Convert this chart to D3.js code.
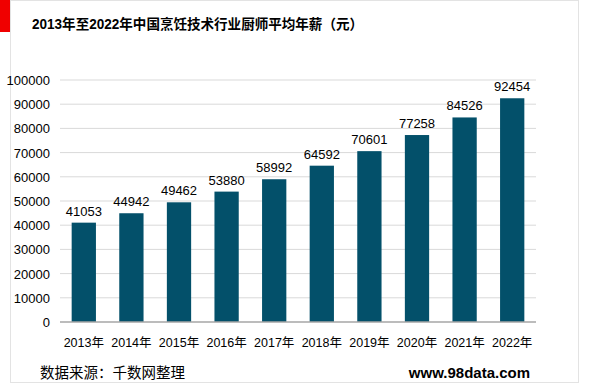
<!DOCTYPE html>
<html lang="zh">
<head>
<meta charset="UTF-8">
<script src="https://cdn.jsdelivr.net/npm/d3@7"></script>
<style>
  body { margin: 0; background: #fff; }
  text { font-family: "Liberation Sans", Arial, "Noto Sans CJK SC", sans-serif; }
</style>
</head>
<body>
<div id="chart"></div>
<script>
// 数据
var years = ["2013年", "2014年", "2015年", "2016年", "2017年", "2018年", "2019年", "2020年", "2021年", "2022年"];
var salary = [41053, 44942, 49462, 53880, 58992, 64592, 70601, 77258, 84526, 92454];
var yTicks = [0, 10000, 20000, 30000, 40000, 50000, 60000, 70000, 80000, 90000, 100000];

var W = 600, H = 385;
var svg = d3.select("#chart").append("svg")
  .attr("width", W).attr("height", H);

// 外框和红色标记
svg.append("rect")
  .attr("x", 10.5).attr("y", 0.5)
  .attr("width", 568).attr("height", 382)
  .attr("fill", "none").attr("stroke", "#e3e3e3");
svg.append("rect")
  .attr("x", 0).attr("y", 0)
  .attr("width", 10).attr("height", 32)
  .attr("fill", "#f00000");

svg.append("text")
  .attr("x", 32).attr("y", 29)
  .attr("font-size", 14).attr("font-weight", "bold")
  .attr("fill", "#000")
  .attr("textLength", 331).attr("lengthAdjust", "spacingAndGlyphs")
  .text("2013年至2022年中国烹饪技术行业厨师平均年薪（元）");

var x = d3.scaleBand().domain(years).range([60, 536]).paddingInner(0.49).paddingOuter(0.245);
var y = d3.scaleLinear().domain([0, 100000]).range([322, 80]);

// 网格线
svg.append("g").selectAll("line")
  .data(yTicks.slice(1))
  .enter().append("line")
  .attr("x1", 60).attr("x2", 536)
  .attr("y1", d => y(d)).attr("y2", d => y(d))
  .attr("stroke", "#d9d9d9").attr("stroke-width", 1);

// y轴标签
svg.append("g").selectAll("text")
  .data(yTicks)
  .enter().append("text")
  .attr("x", 50).attr("y", d => y(d) + 5)
  .attr("text-anchor", "end")
  .attr("font-size", 13).attr("fill", "#000")
  .text(d => d);

// 柱子
svg.append("g").selectAll("rect")
  .data(salary)
  .enter().append("rect")
  .attr("x", (d, i) => x(years[i]))
  .attr("y", d => y(d))
  .attr("width", x.bandwidth())
  .attr("height", d => y(0) - y(d))
  .attr("fill", "#03506a");

// 数值标签
svg.append("g").selectAll("text")
  .data(salary)
  .enter().append("text")
  .attr("x", (d, i) => x(years[i]) + x.bandwidth() / 2)
  .attr("y", d => y(d) - 7)
  .attr("text-anchor", "middle")
  .attr("font-size", 13).attr("fill", "#000")
  .text(d => d);

// x轴
svg.append("line")
  .attr("x1", 60).attr("x2", 536)
  .attr("y1", y(0)).attr("y2", y(0))
  .attr("stroke", "#a6a6a6").attr("stroke-width", 1.5);

svg.append("g").selectAll("text")
  .data(years)
  .enter().append("text")
  .attr("x", d => x(d) + x.bandwidth() / 2)
  .attr("y", 347)
  .attr("text-anchor", "middle")
  .attr("font-size", 12.5).attr("fill", "#000")
  .text(d => d);

// 来源
svg.append("text")
  .attr("x", 40).attr("y", 378)
  .attr("font-size", 14.5).attr("fill", "#000")
  .style("font-family", "'Noto Sans CJK SC', sans-serif")
  .text("数据来源：千数网整理");
svg.append("text")
  .attr("x", 530).attr("y", 378)
  .attr("text-anchor", "end")
  .attr("font-size", 15).attr("font-weight", "bold").attr("fill", "#000")
  .text("www.98data.com");
</script>
</body>
</html>
